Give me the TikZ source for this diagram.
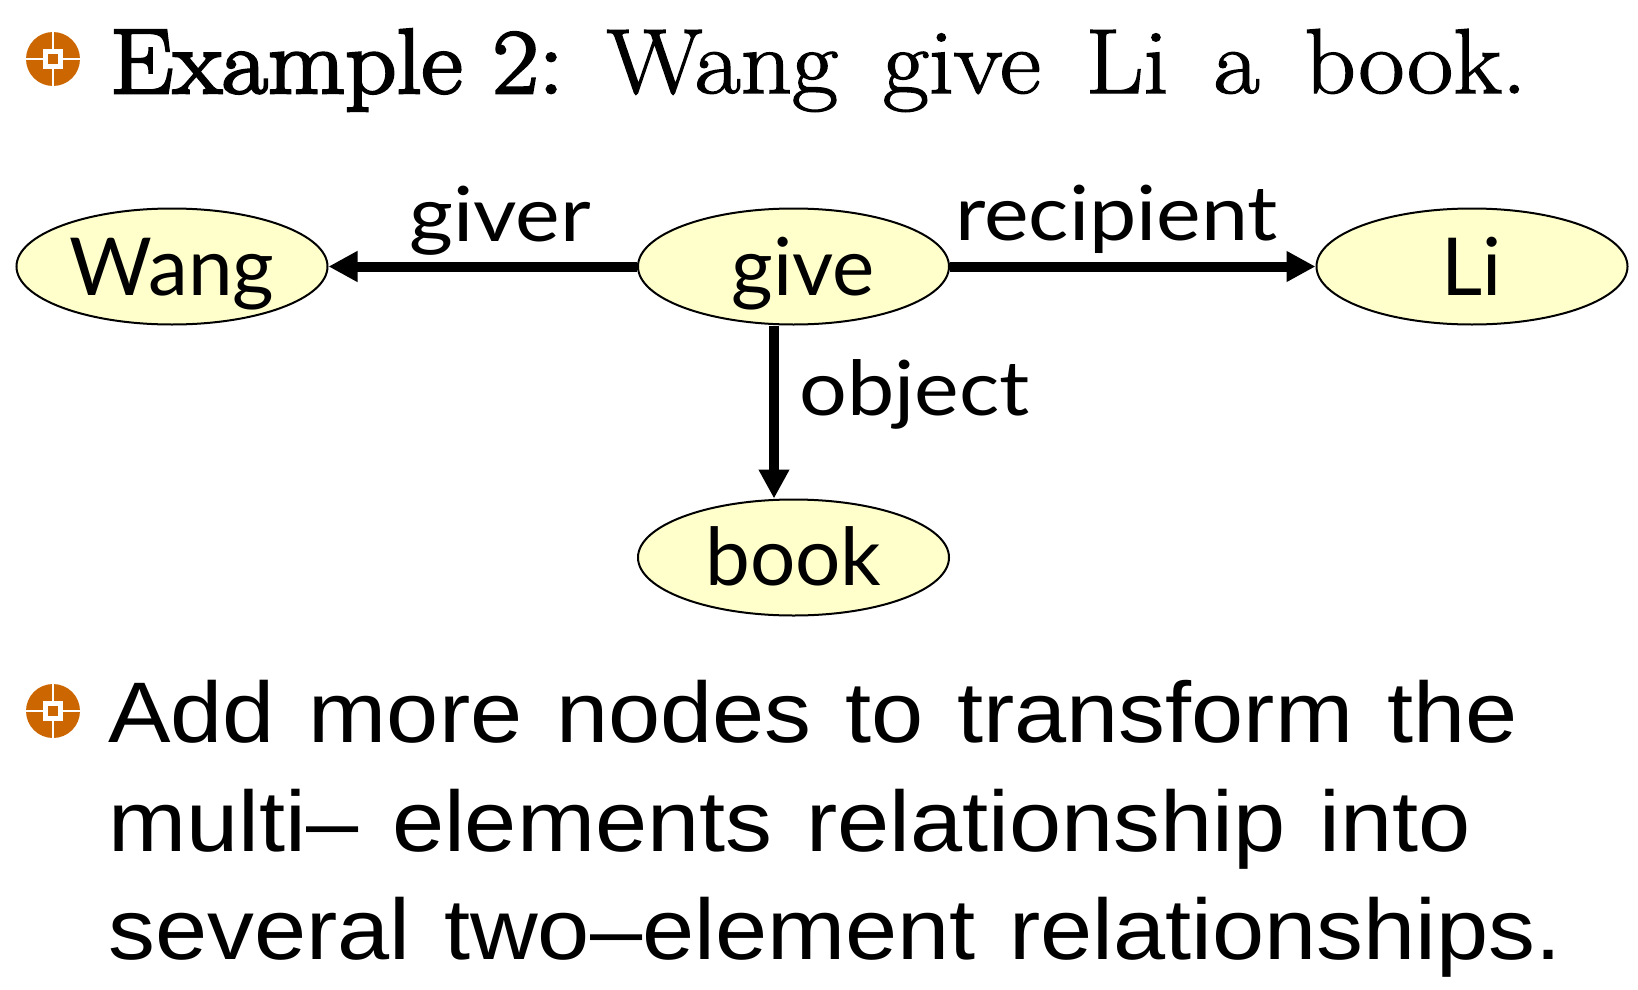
\documentclass[tikz,border=0pt]{standalone}
\usepackage{fontspec}
\usetikzlibrary{shapes.geometric,arrows.meta}
\newfontfamily\bodyfont[FakeStretch=1.09,WordSpace=1.3]{Liberation Sans}
\newfontfamily\handfont{Lato}
\newfontfamily\labelfont[FakeStretch=1.11]{Lato}
\newfontfamily\titlefont[FakeBold=1.6,FakeStretch=1.09]{Latin Modern Roman}
\newfontfamily\titlebold[FakeBold=3.0,FakeStretch=1.09]{Latin Modern Roman}
\definecolor{nodefill}{HTML}{FFFFCC}
\definecolor{bulletorange}{HTML}{CC6600}
\tikzset{
  concept/.style={ellipse,draw=black,line width=2pt,fill=nodefill,minimum width=311pt,minimum height=116pt,inner sep=0pt,font=\handfont\fontsize{80}{80}\selectfont,text height=58pt,text depth=0pt},
  rel/.style={line width=10pt,-{Triangle[length=29pt,width=29pt]}},
  rellabel/.style={anchor=base west,inner sep=0pt,font=\labelfont\fontsize{76}{76}\selectfont},
  bodyline/.style={anchor=base west,inner sep=0pt,font=\bodyfont\fontsize{86}{86}\selectfont},
  bulletdisc/.style={circle,fill=bulletorange,minimum size=54pt,inner sep=0pt},
}
\newcommand{\bulletmark}[2]{%
  \node[bulletdisc] (#2) at #1 {};
  \draw[white,line width=2.5pt] ([xshift=-28pt]#2.center) -- ([xshift=28pt]#2.center);
  \draw[white,line width=2.5pt] ([yshift=-28pt]#2.center) -- ([yshift=28pt]#2.center);
  \fill[white] ([shift={(-10pt,-10pt)}]#2.center) rectangle ([shift={(10pt,10pt)}]#2.center);
  \fill[bulletorange] ([shift={(-5pt,-5pt)}]#2.center) rectangle ([shift={(5pt,5pt)}]#2.center);
}
\begin{document}
\begin{tikzpicture}[x=1pt,y=-1pt]
\useasboundingbox (0,0) rectangle (1638,990);
\bulletmark{(53,59)}{b1}
\node[anchor=base west,inner sep=0pt,font=\fontsize{92}{92}\selectfont] (title) at (110,93)
  {{\titlebold Example 2:}\hspace{43pt}{\titlefont Wang\hspace{45pt}give\hspace{45pt}Li\hspace{45pt}a\hspace{45pt}book.}};
\node[concept] (wang) at (172,266.5) {Wang};
\node[concept] (give) at (793.5,266.5) {\hspace*{20pt}give};
\node[concept] (li) at (1472,266.5) {Li};
\node[concept,text height=56pt] (book) at (793.5,557.5) {book};
\draw[rel] (give) -- (wang);
\draw[rel] (give) -- (li);
\draw[rel] ([xshift=-19.5pt]give.south) -- ([xshift=-19.5pt]book.north);
\node[rellabel] (lgiver) at (409,241) {giver};
\node[rellabel] (lrecipient) at (955,240) {recipient};
\node[rellabel] (lobject) at (799,415) {object};
\bulletmark{(53,711)}{b2}
\node[bodyline] (l1) at (108,742) {Add more nodes to transform the};
\node[bodyline] (l2) at (108,851) {multi– elements relationship into};
\node[bodyline] (l3) at (108,959) {several two–element relationships.};
\end{tikzpicture}
\end{document}
